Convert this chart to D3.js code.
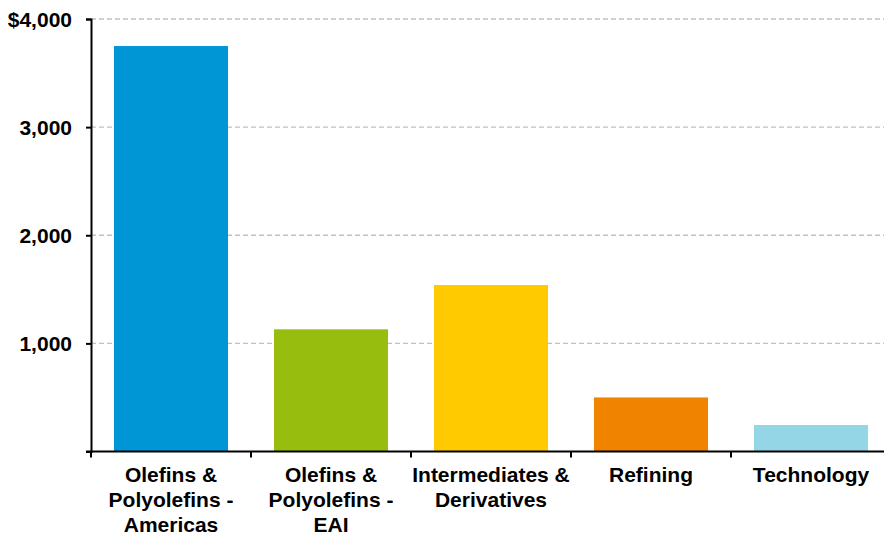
<!DOCTYPE html>
<html>
<head>
<meta charset="utf-8">
<script src="https://cdn.jsdelivr.net/npm/d3@7"></script>
<style>
  html, body { margin: 0; padding: 0; background: #fff; }
  svg { display: block; }
  text { font-family: "Liberation Sans", Arial, sans-serif; font-weight: bold; fill: #000; }
</style>
</head>
<body>
<svg id="chart" width="884" height="533"></svg>
<script>
const categories = [
  ["Olefins &", "Polyolefins -", "Americas"],
  ["Olefins &", "Polyolefins -", "EAI"],
  ["Intermediates &", "Derivatives"],
  ["Refining"],
  ["Technology"]
];
const values = [3750, 1130, 1540, 500, 245];
const colors = ["#0096D6", "#97BD0F", "#FFCB00", "#F08300", "#94D6E6"];
const yTicks = [0, 1000, 2000, 3000, 4000];
const yTickLabels = ["", "1,000", "2,000", "3,000", "$4,000"];

(function () {
const svg = d3.select("#chart");
const mLeft = 91, mRight = 891, mTop = 19, mBottom = 451.5;
const idx = categories.map((d, i) => i);

const x = d3.scaleBand().domain(idx).range([mLeft, mRight])
  .paddingInner(0.2875).paddingOuter(0.14375);
const y = d3.scaleLinear().domain([0, 4000]).range([mBottom, mTop]);

// gridlines
svg.append("g").selectAll("line").data(yTicks.filter(d => d > 0)).join("line")
  .attr("x1", mLeft).attr("x2", 884)
  .attr("y1", d => y(d)).attr("y2", d => y(d))
  .attr("stroke", "#c0c0c0").attr("stroke-width", 1.3)
  .attr("stroke-dasharray", "5,3");

// bars
svg.append("g").selectAll("rect").data(values).join("rect")
  .attr("x", (d, i) => x(i))
  .attr("width", x.bandwidth())
  .attr("y", d => y(d))
  .attr("height", d => y(0) - y(d))
  .attr("fill", (d, i) => colors[i]);

// y axis
const yAxis = d3.axisLeft(y).tickValues(yTicks).tickSize(5).tickPadding(14)
  .tickFormat((d, i) => yTickLabels[i]);
const gy = svg.append("g").attr("transform", `translate(${mLeft},0)`).call(yAxis);
gy.select(".domain").attr("stroke", "#000").attr("stroke-width", 2);
gy.selectAll(".tick line").attr("stroke", "#000").attr("stroke-width", 2);
gy.selectAll(".tick text").style("font-size", "21px").style("font-family", "'Liberation Sans', Arial, sans-serif")
  .style("font-weight", "bold").attr("fill", "#000").attr("dy", "0.35em");

// x axis line
svg.append("line").attr("x1", mLeft - 5).attr("x2", 884)
  .attr("y1", mBottom).attr("y2", mBottom)
  .attr("stroke", "#000").attr("stroke-width", 2);

// x boundary ticks
const boundaries = idx.map(i => x(i) - x.step() * x.paddingOuter());
svg.append("g").selectAll("line").data(boundaries).join("line")
  .attr("x1", d => d).attr("x2", d => d)
  .attr("y1", mBottom).attr("y2", mBottom + 6)
  .attr("stroke", "#000").attr("stroke-width", 2);

// category labels
const lab = svg.append("g").selectAll("text").data(categories).join("text")
  .attr("x", (d, i) => x(i) + x.bandwidth() / 2)
  .attr("y", 482)
  .attr("text-anchor", "middle")
  .style("font-size", "21px");
lab.each(function(d, i) {
  d3.select(this).selectAll("tspan").data(d).join("tspan")
    .attr("x", x(i) + x.bandwidth() / 2)
    .attr("dy", (t, j) => j === 0 ? 0 : 25)
    .text(t => t);
});
})();
</script>
</body>
</html>
